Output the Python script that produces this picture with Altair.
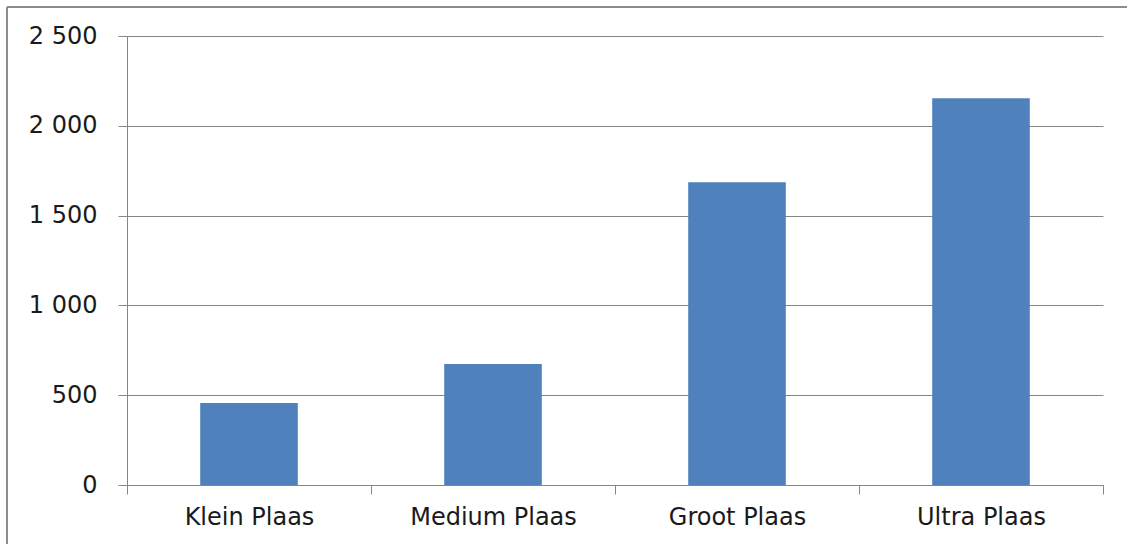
import altair as alt
import pandas as pd

categories = ["Klein Plaas", "Medium Plaas", "Groot Plaas", "Ultra Plaas"]
values = [456, 674, 1685, 2153]
y_ticks = [0, 500, 1000, 1500, 2000, 2500]

df = pd.DataFrame({"cat": categories, "val": values})

W, H = 976, 449
GRAY = "#868686"
FONT = "DejaVu Sans"

bars = alt.Chart(df).mark_bar(color="#4F81BD", width=alt.RelativeBandSize(0.4)).encode(
    x=alt.X(
        "cat:N",
        sort=categories,
        title=None,
        scale=alt.Scale(paddingInner=0, paddingOuter=0),
        axis=alt.Axis(
            labelAngle=0,
            labelFont=FONT,
            labelFontSize=24,
            labelColor="#1a1a1a",
            labelPadding=11,
            tickBand="extent",
            tickSize=9,
            tickColor=GRAY,
            domainColor=GRAY,
            grid=False,
        ),
    ),
    y=alt.Y(
        "val:Q",
        title=None,
        scale=alt.Scale(domain=[0, 2500], nice=False),
        axis=alt.Axis(
            values=y_ticks,
            labelExpr="replace(format(datum.value, ','), ',', ' ')",
            labelFont=FONT,
            labelFontSize=24,
            labelColor="#1a1a1a",
            labelPadding=21,
            tickSize=9,
            tickColor=GRAY,
            domainColor=GRAY,
            gridColor=GRAY,
            gridOpacity=1,
        ),
    ),
)

frame_left = alt.Chart(pd.DataFrame({"k": [0]})).mark_rule(
    stroke="#8c8c8c", strokeWidth=2, clip=False
).encode(x=alt.value(-120), y=alt.value(-29), y2=alt.value(560))

frame_top = alt.Chart(pd.DataFrame({"k": [0]})).mark_rule(
    stroke="#8c8c8c", strokeWidth=2, clip=False
).encode(x=alt.value(-120), x2=alt.value(1040), y=alt.value(-29))

chart = alt.layer(bars, frame_left, frame_top).properties(
    width=W,
    height=H,
    background="white",
    autosize=alt.AutoSizeParams(type="none"),
    padding={"left": 127, "top": 36, "right": 24, "bottom": 59},
).configure_view(stroke=None)

chart.save("out.html", embed_options={"renderer": "svg", "actions": False})
